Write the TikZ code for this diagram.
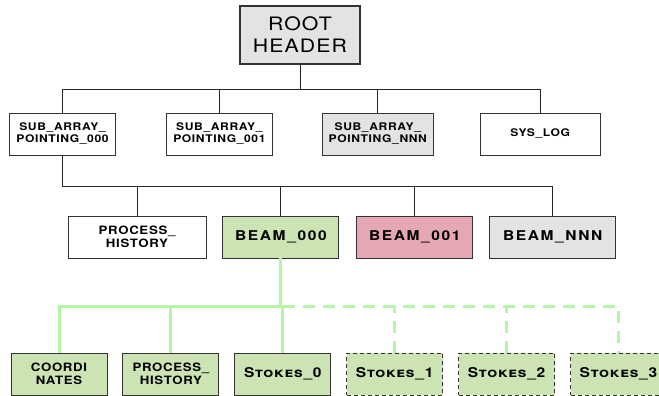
\documentclass[tikz,border=0pt]{standalone}
\usepackage{fontspec}
\setmainfont{TeX Gyre Heros}[FakeStretch=1.15, LetterSpace=6]
\newfontfamily\wideface{TeX Gyre Heros}[FakeStretch=1.15, LetterSpace=12]
\usepackage{tikz}
\usetikzlibrary{calc,positioning}

\definecolor{hdrgray}{HTML}{E3E3E3}
\definecolor{beamgreen}{HTML}{CCE3B4}
\definecolor{beampink}{HTML}{E5A7B4}
\definecolor{linkgreen}{HTML}{B4F5A6}
\definecolor{edgegray}{HTML}{333333}

\tikzset{
  box/.style={draw=edgegray, line width=0.9pt, align=center, inner sep=2pt,
    minimum height=42pt, font=\bfseries\fontsize{10.5}{12}\selectfont},
  rowtwo/.style={box, minimum width=106pt},
  rowthree/.style={box, font=\bfseries\fontsize{11.5}{13}\selectfont},
  beamtxt/.style={font=\wideface\bfseries\fontsize{13.5}{15}\selectfont},
  leaf/.style={box, minimum width=96pt, fill=beamgreen, font=\bfseries\fontsize{11.5}{13}\selectfont},
  stokes/.style={font=\bfseries\scshape\fontsize{13.5}{15}\selectfont},
  dashleaf/.style={leaf, dashed, dash pattern=on 4pt off 3pt},
  link/.style={draw=black!85, line width=0.9pt},
  glink/.style={draw=linkgreen, line width=3pt},
  gdash/.style={glink, dash pattern=on 12pt off 8pt}
}

\begin{document}
\begin{tikzpicture}[x=1pt, y=-1pt]
  \useasboundingbox (0,0) rectangle (659,396);

  % top level
  \node[box, fill=hdrgray, line width=1.8pt, minimum width=120pt, minimum height=58pt,
    font=\fontsize{18.5}{22}\selectfont] (root) at (300,35) {ROOT\\HEADER};

  % sub arrays and log
  \node[rowtwo] (sa0) at (62.5,134) {SUB\_ARRAY\_\\POINTING\_000};
  \node[rowtwo, right=50pt of sa0] (sa1) {SUB\_ARRAY\_\\POINTING\_001};
  \node[rowtwo, fill=hdrgray, minimum width=111pt, right=49pt of sa1] (saN) {SUB\_ARRAY\_\\POINTING\_NNN};
  \node[rowtwo, minimum width=120pt, right=46pt of saN] (syslog) {SYS\_LOG};

  % beams
  \node[rowthree, minimum width=138pt] (proc) at (137,237) {PROCESS\_\\HISTORY};
  \node[rowthree, beamtxt, fill=beamgreen, minimum width=116pt, right=16pt of proc] (beam0) {BEAM\_000};
  \node[rowthree, beamtxt, fill=beampink, minimum width=116pt, right=17pt of beam0] (beam1) {BEAM\_001};
  \node[rowthree, beamtxt, fill=hdrgray, minimum width=126pt, right=16pt of beam1] (beamN) {BEAM\_NNN};

  % beam contents
  \node[leaf] (coord) at (59,374) {COORDI\\NATES};
  \node[leaf, right=15pt of coord] (bproc) {PROCESS\_\\HISTORY};
  \node[leaf, stokes, right=15pt of bproc] (st0) {Stokes\_0};
  \node[dashleaf, stokes, right=15pt of st0] (st1) {Stokes\_1};
  \node[dashleaf, stokes, right=15pt of st1] (st2) {Stokes\_2};
  \node[dashleaf, stokes, right=15pt of st2] (st3) {Stokes\_3};

  % root to second row
  \coordinate (rbus) at ($(root.south)+(0,25)$);
  \draw[link] (root.south) -- (rbus);
  \draw[link] (sa0.north) |- (rbus) -| (syslog.north);
  \draw[link] (sa1.north) -- (sa1.north |- rbus);
  \draw[link] (saN.north) -- (saN.north |- rbus);

  % sub array to beams
  \coordinate (sbus) at ($(sa0.south)+(0,31)$);
  \draw[link] (sa0.south) -- (sbus) -| (beamN.north);
  \draw[link] (proc.north) -- (proc.north |- sbus);
  \draw[link] (beam0.north) -- (beam0.north |- sbus);
  \draw[link] (beam1.north) -- (beam1.north |- sbus);

  % beam to its contents
  \coordinate (gbus) at ($(beam0.south)+(0,48)$);
  \draw[glink] (beam0.south) -- (gbus);
  \draw[glink] (coord.north) |- (st0.north |- gbus) -- (st0.north);
  \draw[glink] (bproc.north) -- (bproc.north |- gbus);
  \draw[gdash] (st0.north |- gbus) -| (st3.north);
  \draw[gdash] (st1.north) -- (st1.north |- gbus);
  \draw[gdash] (st2.north) -- (st2.north |- gbus);
\end{tikzpicture}
\end{document}
